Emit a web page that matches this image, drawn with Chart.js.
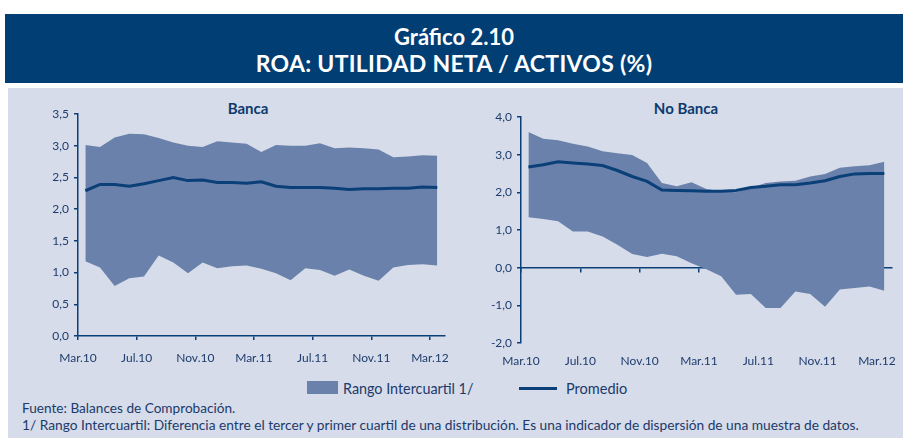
<!DOCTYPE html>
<html>
<head>
<meta charset="utf-8">
<script src="https://cdn.jsdelivr.net/npm/chart.js@4.4.1/dist/chart.umd.min.js"></script>
<style>
  body { margin: 0; background: #fff; width: 903px; height: 438px; overflow: hidden; position: relative;
         font-family: Lato, "DejaVu Sans Condensed", sans-serif; }
  #cabecera { position: absolute; left: 5px; top: 14px; width: 898px; height: 69px; background: #003e74;
              color: #fff; text-align: center; font-weight: bold; }
  #cabecera .l1 { position: absolute; left: 0; right: 0; top: 9px; font-size: 22px; }
  #cabecera .l2 { position: absolute; left: 0; right: 0; top: 35px; font-size: 23px; letter-spacing: 0.3px; }
  #panel { position: absolute; left: 8px; top: 88px; width: 895px; height: 350px; background: #d6dce9; }
  canvas { position: absolute; }
  .subt { position: absolute; top: 99px; width: 120px; text-align: center; font-weight: bold; font-size: 15px; color: #0d3a6e; }
  #leyenda { position: absolute; top: 379px; left: 0; font-size: 15px; color: #1c3a6b; }
  .caja { position: absolute; left: 307px; top: 2px; width: 31px; height: 13px; background: #6a82ab; }
  .linea { position: absolute; left: 519px; top: 8px; width: 38px; height: 3px; background: #0b3f78; }
  .ley { position: absolute; top: 0; white-space: nowrap; transform-origin: 0 0; }
  .nota { position: absolute; left: 22px; font-size: 14px; color: #1c3a6b; white-space: nowrap; transform-origin: 0 0; }
</style>
</head>
<body>
<div id="cabecera">
  <div class="l1">Gráfico 2.10</div>
  <div class="l2">ROA: UTILIDAD NETA / ACTIVOS (%)</div>
</div>
<div id="panel"></div>
<div class="subt" style="left:188px">Banca</div>
<div class="subt" style="left:626px">No Banca</div>
<canvas id="banca" width="440" height="270" style="left:20px; top:95px"></canvas>
<canvas id="noBanca" width="443" height="270" style="left:460px; top:95px"></canvas>
<div id="leyenda">
  <div class="caja"></div>
  <span class="ley" id="ley1" style="left:343px">Rango Intercuartil 1/</span>
  <div class="linea"></div>
  <span class="ley" id="ley2" style="left:566px">Promedio</span>
</div>
<div class="nota" id="nota1" style="top:399px">Fuente: Balances de Comprobación.</div>
<div class="nota" id="nota2" style="top:416px">1/ Rango Intercuartil: Diferencia entre el tercer y primer cuartil de una distribución. Es una indicador de dispersión de una muestra de datos.</div>

<script>
// etiquetas del eje x (cada 4 meses, mar.10 - mar.12)
const meses = ['Mar.10', 'Jul.10', 'Nov.10', 'Mar.11', 'Jul.11', 'Nov.11', 'Mar.12'];

// Banca: cuartiles y promedio mensual
const bancaQ3 = [3.01, 2.98, 3.13, 3.19, 3.18, 3.12, 3.05, 3.00, 2.98, 3.07, 3.05, 3.03, 2.90,
                 3.01, 3.00, 3.00, 3.04, 2.96, 2.97, 2.96, 2.94, 2.82, 2.83, 2.85, 2.84];
const bancaQ1 = [1.18, 1.08, 0.79, 0.91, 0.94, 1.27, 1.16, 0.99, 1.16, 1.07, 1.10, 1.11, 1.06,
                 0.99, 0.88, 1.07, 1.04, 0.95, 1.05, 0.95, 0.87, 1.08, 1.12, 1.13, 1.11];
const bancaProm = [2.29, 2.39, 2.39, 2.36, 2.40, 2.45, 2.50, 2.45, 2.46, 2.42, 2.42, 2.41, 2.43,
                   2.36, 2.34, 2.34, 2.34, 2.33, 2.31, 2.32, 2.32, 2.33, 2.33, 2.35, 2.34];

// No Banca
const noBancaQ3 = [3.60, 3.42, 3.38, 3.29, 3.22, 3.09, 3.04, 2.99, 2.78, 2.25, 2.16, 2.27, 2.09,
                   2.03, 2.00, 2.12, 2.25, 2.29, 2.31, 2.42, 2.49, 2.65, 2.69, 2.72, 2.81];
const noBancaQ1 = [1.34, 1.29, 1.23, 0.96, 0.96, 0.83, 0.61, 0.36, 0.28, 0.37, 0.30, 0.12, -0.04,
                   -0.23, -0.72, -0.70, -1.07, -1.07, -0.63, -0.70, -1.04, -0.58, -0.54, -0.50, -0.61];
const noBancaProm = [2.67, 2.73, 2.81, 2.78, 2.75, 2.71, 2.58, 2.42, 2.29, 2.06, 2.05, 2.04, 2.03,
                     2.03, 2.05, 2.13, 2.16, 2.20, 2.20, 2.25, 2.31, 2.42, 2.49, 2.50, 2.50];

const azul = '#0b3f78';
const texto = '#1f3c6e';
const relleno = '#6a82ab';
const fuente = { family: 'Lato, "DejaVu Sans Condensed", sans-serif', size: 12 };

// el texto original es de una fuente estrecha: se comprime a lo ancho
function ajustar(id, ancho) {
  const el = document.getElementById(id);
  el.style.transform = 'scaleX(' + (ancho / el.offsetWidth) + ')';
}
ajustar('nota1', 213);
ajustar('nota2', 837);
ajustar('ley1', 130);
ajustar('ley2', 61);

// cada dato se ubica a mitad del mes
const puntos = arr => arr.map((v, i) => ({ x: i + 0.5, y: v }));
const marcas = axis => { axis.ticks = meses.map((m, i) => ({ value: i * 4 })); };
const coma = v => v.toFixed(1).replace('.', ',');

function crear(id, q3, q1, prom, ymin, ymax, paso, opts) {
  const scales = {
    x: {
      type: 'linear', min: 0, max: 25,
      afterBuildTicks: marcas,
      afterFit: s => { s.height = opts.altoX; },
      ticks: { font: fuente, color: texto, padding: opts.padX, maxRotation: 0,
               callback: v => meses[v / 4] },
      grid: { display: opts.ejeAbajo, drawOnChartArea: false, tickLength: 4, color: azul, lineWidth: 1.5 },
      border: { display: opts.ejeAbajo, color: azul, width: 1.5 }
    },
    y: {
      min: ymin, max: ymax,
      afterFit: s => { s.width = opts.anchoY; },
      ticks: { stepSize: paso, font: fuente, color: texto, padding: 5, callback: coma },
      grid: { drawOnChartArea: false, tickLength: 4, color: azul, lineWidth: 1.5 },
      border: { color: azul, width: 1.5 }
    }
  };
  if (!opts.ejeAbajo) {
    scales.x0 = {
      type: 'linear', axis: 'x', min: 0, max: 25, position: { y: 0 },
      afterBuildTicks: marcas,
      ticks: { display: false },
      grid: { drawOnChartArea: false, tickLength: 4, color: azul, lineWidth: 1.5 },
      border: { color: azul, width: 1.5 }
    };
  }
  return new Chart(document.getElementById(id), {
    type: 'line',
    data: {
      datasets: [
        { label: 'Promedio', data: puntos(prom), borderColor: azul, borderWidth: 3, pointRadius: 0, tension: 0 },
        { label: 'Q3', data: puntos(q3), borderWidth: 0, borderColor: relleno, pointRadius: 0,
          backgroundColor: relleno, fill: '+1' },
        { label: 'Q1', data: puntos(q1), borderWidth: 0, borderColor: relleno, pointRadius: 0, fill: false }
      ]
    },
    options: {
      responsive: false,
      animation: false,
      devicePixelRatio: 1,
      layout: { padding: { top: opts.arriba, right: 7, left: 0, bottom: 0 } },
      plugins: { legend: { display: false }, tooltip: { enabled: false } },
      scales: scales
    }
  });
}

crear('banca', bancaQ3, bancaQ1, bancaProm, 0, 3.5, 0.5,
      { altoX: 29, anchoY: 58, arriba: 19, padX: 11, ejeAbajo: true });
crear('noBanca', noBancaQ3, noBancaQ1, noBancaProm, -2, 4, 1,
      { altoX: 22, anchoY: 61, arriba: 22, padX: 7, ejeAbajo: false });
</script>
</body>
</html>
